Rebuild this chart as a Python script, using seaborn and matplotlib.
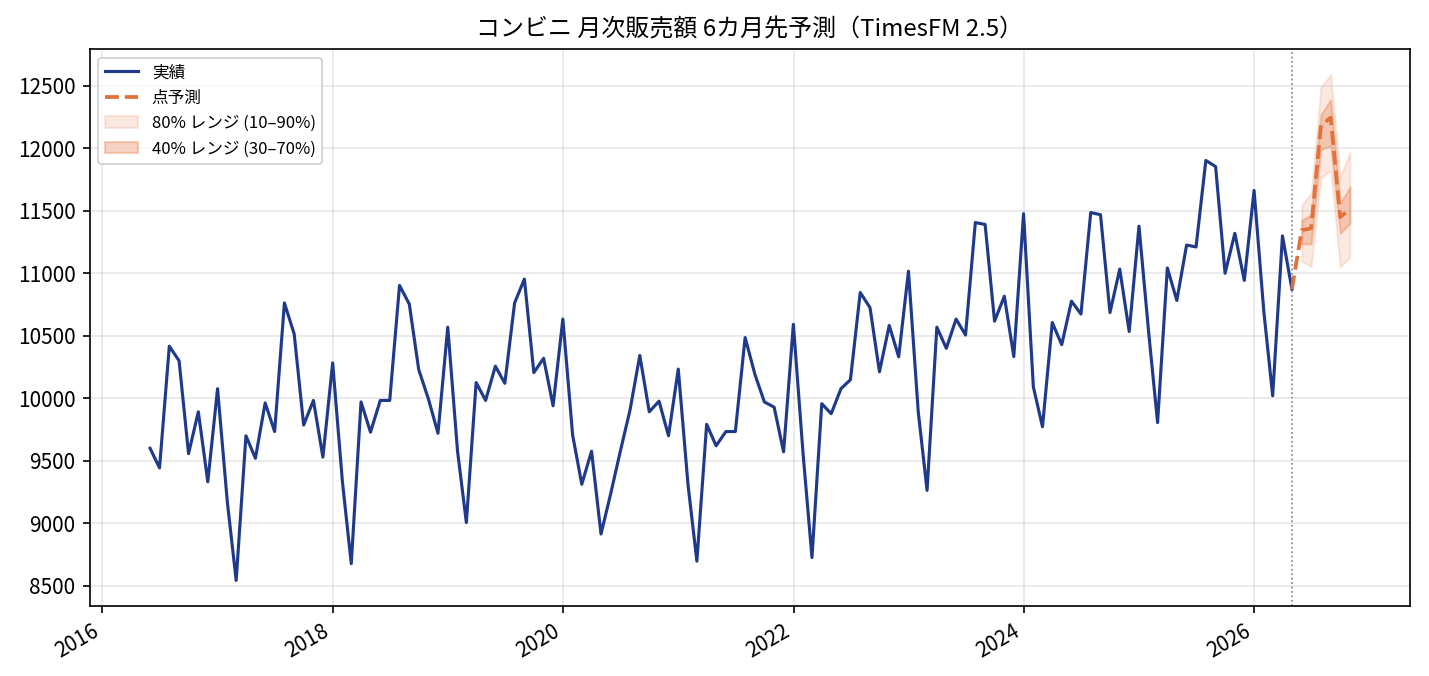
import pandas as pd
import matplotlib
matplotlib.use('Agg')
import matplotlib.pyplot as plt
import seaborn as sns

plt.rcParams['font.family'] = ['Noto Sans CJK JP', 'DejaVu Sans']
plt.rcParams['axes.unicode_minus'] = False

# 実績 (2016-05 ～ 2026-04, 月末)
sales_2016 = [9600, 9443, 10417, 10300, 9557, 9892, 9332, 10077]
sales_2017 = [9170, 8543, 9700, 9520, 9963, 9734, 10763, 10514, 9786, 9983, 9529, 10283]
sales_2018 = [9330, 8677, 9971, 9729, 9983, 9983, 10903, 10754, 10229, 9992, 9720, 10569]
sales_2019 = [9577, 9006, 10126, 9983, 10257, 10120, 10763, 10954, 10206, 10320, 9940, 10634]
sales_2020 = [9706, 9312, 9577, 8914, 9240, 9574, 9906, 10343, 9892, 9977, 9700, 10234]
sales_2021 = [9306, 8697, 9792, 9620, 9734, 9734, 10486, 10192, 9971, 9929, 9572, 10592]
sales_2022 = [9550, 8726, 9957, 9877, 10077, 10149, 10846, 10726, 10212, 10583, 10332, 11017]
sales_2023 = [9892, 9263, 10569, 10400, 10634, 10506, 11406, 11391, 10617, 10817, 10334, 11477]
sales_2024 = [10092, 9772, 10606, 10429, 10777, 10674, 11486, 11469, 10686, 11034, 10534, 11377]
sales_2025 = [10520, 9806, 11043, 10783, 11226, 11211, 11903, 11854, 11000, 11320, 10943, 11663]
sales_2026 = [10692, 10020, 11300, 10873]

actual = (sales_2016 + sales_2017 + sales_2018 + sales_2019 + sales_2020
          + sales_2021 + sales_2022 + sales_2023 + sales_2024 + sales_2025 + sales_2026)
actual_dates = pd.date_range('2016-05-31', periods=len(actual), freq='ME')

# 予測 (2026-05 ～ 2026-10)
fc_dates = pd.date_range('2026-05-31', periods=6, freq='ME')
fc_median = [11345, 11360, 12185, 12245, 11450, 11515]
fc_q10 = [11095, 11055, 11760, 11825, 11050, 11130]
fc_q30 = [11235, 11235, 11990, 12020, 11320, 11400]
fc_q70 = [11425, 11470, 12270, 12390, 11560, 11690]
fc_q90 = [11545, 11640, 12490, 12590, 11770, 11970]

df_actual = pd.DataFrame({'date': actual_dates, 'value': actual})
# 点予測は最終実績から線をつなぐ
df_fc = pd.DataFrame({'date': [actual_dates[-1]] + list(fc_dates),
                      'value': [actual[-1]] + fc_median})

blue = '#1f3a8a'
orange = '#e4703a'

fig, ax = plt.subplots(figsize=(9.533, 4.507), dpi=150)

sns.lineplot(data=df_actual, x='date', y='value', ax=ax, color=blue, linewidth=1.5, label='実績')
sns.lineplot(data=df_fc, x='date', y='value', ax=ax, color=orange, linewidth=1.8,
             linestyle='--', label='点予測')
ax.fill_between(fc_dates, fc_q10, fc_q90, color=orange, alpha=0.15, label='80% レンジ (10–90%)')
ax.fill_between(fc_dates, fc_q30, fc_q70, color=orange, alpha=0.3, label='40% レンジ (30–70%)')
ax.axvline(actual_dates[-1], color='gray', linestyle=':', linewidth=0.8)

ax.set_title('コンビニ 月次販売額 6カ月先予測（TimesFM 2.5）', fontsize=11.5)
ax.set_xlabel('')
ax.set_ylabel('')
ax.grid(alpha=0.3)
ax.tick_params(labelsize=10)
ax.legend(loc='upper left', fontsize=8)
fig.autofmt_xdate()

fig.subplots_adjust(left=0.063, right=0.986, top=0.927, bottom=0.104)
plt.savefig('out.png', dpi=150)
